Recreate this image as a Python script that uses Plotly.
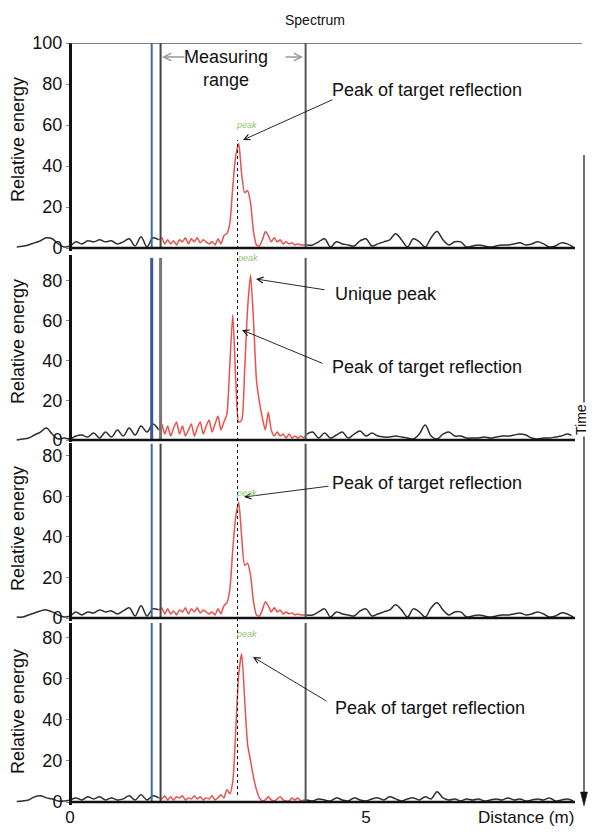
import numpy as np
import plotly.graph_objects as go

# page body has an 8px margin, so the figure is offset by 8px (kept short enough to avoid a scrollbar)
OFF = 8
W, H = 596 - OFF, 834 - 2 * OFF
FONT = "Liberation Sans, Arial, sans-serif"

# ---------------- data ----------------
x_left = np.round(np.linspace(-0.9, 1.5, 25), 2)
x_mid = np.round(np.linspace(1.5, 4.0, 51), 3)
x_right = np.round(np.linspace(4.0, 8.5, 46), 2)

p1_left = [0.5, 0.8, 1.5, 2.5, 3.5, 5, 4.5, 2, 0.5, 1, 3, 2, 3.5, 3, 4, 3, 3.5, 2, 3, 4.5, 1, 5.5, 0.5, 5, 4]
p1_mid = [4, 5, 2, 4, 2, 3.5, 1.5, 4, 3, 5, 2, 4.5, 3, 5, 2.5, 4, 3, 2, 3, 1.5,
          4.5, 2, 6, 7, 12, 30, 45, 51, 36, 27, 28, 22, 8, 1.5, 1, 4, 8, 6, 3, 5,
          3, 4, 2, 3, 2, 2.5, 1.5, 2, 1.5, 1.5, 1.5]
p1_right = [1.5, 1.5, 3, 4.5, 0.5, 3, 2, 1.5, 1, 3.5, 4.5, 1, 2, 3, 4, 7, 4, 0.5, 4.5, 3,
            0.5, 5, 8, 4, 1.5, 3, 3, 0.5, 1, 1.5, 1, 0.5, 1, 1.5, 1.5, 2, 2.5, 1.5, 2, 3,
            2, 0.5, 1, 2.5, 2, 0.5]

p2_left = [0, 0.5, 1, 2.5, 4, 6, 3, 0.5, 1, 0.5, 2, 2.5, 1.5, 3.5, 1, 4, 1.5, 5, 2, 6, 2.5, 7, 4, 8, 5]
p2_mid = [5, 8, 3, 7, 2, 6, 9, 3, 7, 2, 5, 8, 2, 6, 9, 3, 7, 10, 4, 8,
          12, 5, 9, 13, 38, 63, 30, 9, 10, 35, 66, 83, 60, 30, 19, 11, 5, 14, 5, 2,
          4, 2, 3, 1, 3, 1, 2, 1, 2, 1, 3]
p2_right = [3, 4, 1, 3.5, 1, 2.5, 4, 1, 3, 4.5, 2, 3.5, 2, 1.5, 1.5, 2, 1.5, 1, 0.5, 3,
            7.5, 2, 0.5, 3, 4, 2, 2, 1, 1, 1, 1.5, 1, 1.5, 2, 2, 2.5, 3, 2.5, 1, 0.5,
            1, 1, 1.5, 2, 3, 2]

p3_left = [0.5, 0.5, 1.5, 2.5, 3.5, 4, 3, 1.5, 0.5, 1, 3, 1.5, 3, 2.5, 4, 3, 3.5, 2, 3.5, 5, 1, 6, 1, 4.5, 4]
p3_mid = [4, 5, 2, 4.5, 2, 3.5, 1.5, 4, 3, 5, 2, 4.5, 3, 5, 2.5, 4, 3, 2, 3, 1.5,
          4.5, 2, 6, 7.5, 14, 34, 50, 57, 40, 26, 27, 21, 8, 1.5, 1, 4, 8, 6, 3, 5,
          3, 4, 2, 3, 2, 2.5, 1.5, 2, 1.5, 1.5, 1.5]
p3_right = [1.5, 1.5, 3, 4.5, 0.5, 3, 2, 1.5, 1, 3.5, 4.5, 1, 2, 3, 4, 6.5, 4, 0.5, 4.5, 3,
            0.5, 5, 7.5, 4, 1.5, 3, 3, 0.5, 1, 1.5, 1, 0.5, 1, 1.5, 1.5, 2, 2.5, 1.5, 2, 3,
            2, 0.5, 1, 2.5, 2, 0.5]

p4_left = [0.3, 0.5, 1, 2.5, 3, 2, 1.5, 0.5, 0.5, 1, 2, 1, 2.5, 1.5, 2.5, 1, 2, 1, 1.5, 3, 1, 3.5, 1, 3, 2]
p4_mid = [2, 1.5, 3, 1, 2.5, 1, 2.5, 2, 3, 1, 2, 1.5, 3, 1.5, 2.5, 1, 2, 1.5, 3, 1,
          2, 3.5, 2, 6, 4, 10, 35, 62, 72, 50, 28, 20, 12, 6, 2, 0.5, 1, 2.5, 1, 0.5,
          1.5, 2.5, 1, 0.5, 0.5, 2, 1, 2, 0.5, 1, 1]
p4_right = [1, 0.5, 1.5, 1, 0.5, 2, 1, 0.5, 2, 1, 0.5, 1.5, 2, 1, 2.5, 1.5, 0.5, 1.5, 2, 1,
            2.5, 1.5, 5, 2, 1, 1.5, 0.5, 1.5, 1, 1.5, 0.5, 1, 1.5, 1, 2, 1, 1.5, 0.5, 1, 1.5,
            1, 2, 0.5, 1, 1.5, 0.5]

panels_left = [p1_left, p2_left, p3_left, p4_left]
panels_mid = [p1_mid, p2_mid, p3_mid, p4_mid]
panels_right = [p1_right, p2_right, p3_right, p4_right]

y_ticks = [[0, 20, 40, 60, 80, 100], [0, 20, 40, 60, 80], [0, 20, 40, 60, 80], [0, 20, 40, 60, 80]]
x_ticks = [0, 5]
blue_marker = 1.38
range_start = 1.53
range_end = 3.98
peak_pos = 2.83

# ---------------- layout geometry (reference pixels) ----------------
X0PX, PXM = 70.0, 59.2  # pixel of x=0, pixels per metre
xr = [(OFF - X0PX) / PXM, (596 - X0PX) / PXM]
# zero pixel, px per unit, ymin, ymax
geo = [(248, 2.05, -1.5, 100), (440, 1.99, -1.0, 93), (618, 2.03, -1.5, 86), (802, 2.06, -1.5, 87)]


def px(x):
    return (x - OFF) / W


def py(y):
    return 1 - (y - OFF) / H


fig = go.Figure()
layout = dict(width=W, height=H, margin=dict(l=0, r=0, t=0, b=0), autosize=False,
              paper_bgcolor="white", plot_bgcolor="rgba(0,0,0,0)", showlegend=False,
              font=dict(family=FONT, size=18, color="#111"))
shapes = []
annotations = []

for i in range(4):
    n = i + 1
    xa = "x" if n == 1 else f"x{n}"
    ya = "y" if n == 1 else f"y{n}"
    z, u, ymin, ymax = geo[i]
    top = z - ymax * u
    bot = z - ymin * u
    layout[f"xaxis{'' if n == 1 else n}"] = dict(
        domain=[0, 1], range=xr, anchor=ya, showgrid=False, zeroline=False, showline=False,
        ticks="", tickvals=x_ticks, ticktext=[str(t) for t in x_ticks],
        showticklabels=(n == 4), tickfont=dict(size=17, family=FONT, color="#111"), fixedrange=True)
    layout[f"yaxis{'' if n == 1 else n}"] = dict(
        domain=[py(bot), py(top)], range=[ymin, ymax], anchor="free", position=px(X0PX),
        showgrid=False, zeroline=False, showline=True, linewidth=3, linecolor="#111",
        tickvals=y_ticks[i], ticks="outside", ticklen=3, tickcolor="#888",
        tickfont=dict(size=18, family=FONT, color="#111"), automargin=False, fixedrange=True)

    fig.add_trace(go.Scatter(x=x_left, y=panels_left[i], xaxis=xa, yaxis=ya, mode="lines",
                             line=dict(color="#2e2e2e", width=1.5, shape="spline", smoothing=1.0)))
    fig.add_trace(go.Scatter(x=x_right, y=panels_right[i], xaxis=xa, yaxis=ya, mode="lines",
                             line=dict(color="#2e2e2e", width=1.5, shape="spline", smoothing=1.0)))
    fig.add_trace(go.Scatter(x=x_mid, y=panels_mid[i], xaxis=xa, yaxis=ya, mode="lines",
                             line=dict(color="#e8524c", width=1.5, shape="spline", smoothing=0.6)))

    ltop = ymax if n != 2 else ymax - 1.5
    bw = 2 if n != 2 else 3
    shapes.append(dict(type="line", xref=xa, yref=ya, x0=blue_marker, x1=blue_marker, y0=0, y1=ltop,
                       line=dict(color="#3b69b0" if n != 2 else "#3a55a0", width=bw)))
    shapes.append(dict(type="line", xref=xa, yref=ya, x0=range_start, x1=range_start, y0=0, y1=ltop,
                       line=dict(color="#444" if n != 2 else "#777", width=bw)))
    shapes.append(dict(type="line", xref=xa, yref=ya, x0=range_end, x1=range_end, y0=0, y1=ltop,
                       line=dict(color="#555", width=2)))
    shapes.append(dict(type="line", xref=xa, yref=ya, x0=0, x1=8.53, y0=0, y1=0,
                       line=dict(color="#111", width=2.5)))
    if n == 1:
        shapes.append(dict(type="line", xref=xa, yref=ya, x0=0, x1=8.65, y0=ymax, y1=ymax,
                           line=dict(color="#555", width=1.5)))

# dotted peak line across panels
shapes.append(dict(type="line", xref="x", yref="paper", x0=peak_pos, x1=peak_pos,
                   y0=py(795), y1=py(140), line=dict(color="#111", width=1, dash="dot")))

# time arrow: line + filled head, in paper coordinates (kept inside the visible page width)
TX = 584
shapes.append(dict(type="line", xref="paper", yref="paper", x0=px(TX), x1=px(TX),
                   y0=py(796), y1=py(155), line=dict(color="#222", width=1.3)))
shapes.append(dict(type="path", xref="paper", yref="paper",
                   path=f"M {px(TX - 3.5)} {py(792)} L {px(TX + 3.5)} {py(792)} L {px(TX)} {py(806)} Z",
                   fillcolor="#111", line=dict(color="#111", width=0.5)))

# y titles
for cy in [140, 342, 529, 712]:
    annotations.append(dict(x=px(18), y=py(cy), xref="paper", yref="paper", text="Relative energy",
                            textangle=-90, showarrow=False, xanchor="center", yanchor="middle",
                            font=dict(size=18, family=FONT, color="#111")))


def text(x, y, s, size=18, anchor="left", color="#111", **kw):
    annotations.append(dict(x=px(x), y=py(y), xref="paper", yref="paper", text=s, showarrow=False,
                            xanchor=anchor, yanchor="middle", font=dict(size=size, family=FONT, color=color), **kw))


def arrow(head, tail, color="#111", width=0.9, head_style=5, size=1.3):
    annotations.append(dict(x=px(head[0]), y=py(head[1]), xref="paper", yref="paper", text="",
                            showarrow=True, ax=tail[0] - head[0], ay=tail[1] - head[1],
                            axref="pixel", ayref="pixel", arrowhead=head_style, arrowsize=size,
                            arrowwidth=width, arrowcolor=color, standoff=0, startstandoff=0))


text(315, 20, "Spectrum", size=14, anchor="center")
text(226, 57, "Measuring", size=18, anchor="center", bgcolor="white")
text(226, 80, "range", size=18, anchor="center")
arrow((162, 57), (186, 57), color="#999", width=1.5, size=1.0)
arrow((303, 57), (284, 57), color="#999", width=1.5, size=1.0)

text(330, 90, "Peak of target reflection")
arrow((243, 140), (334, 99))
text(333, 294, "Unique peak")
arrow((256, 279), (326, 290))
text(330, 367, "Peak of target reflection")
arrow((242, 330), (324, 364))
text(330, 483, "Peak of target reflection")
arrow((244, 497), (330, 486))
text(333, 708, "Peak of target reflection")
arrow((253, 657), (328, 702))

for (gx, gy) in [(246, 125), (247, 258), (246, 493), (246, 634)]:
    text(gx, gy, "<i>peak</i>", size=9, anchor="center", color="#8cc46f")

text(526, 817, "Distance (m)", size=17, anchor="center")

text(581, 420, "Time", size=14, anchor="center", textangle=-90, bgcolor="white")

layout["shapes"] = shapes
layout["annotations"] = annotations
fig.update_layout(**layout)
fig.write_html("out.html")
